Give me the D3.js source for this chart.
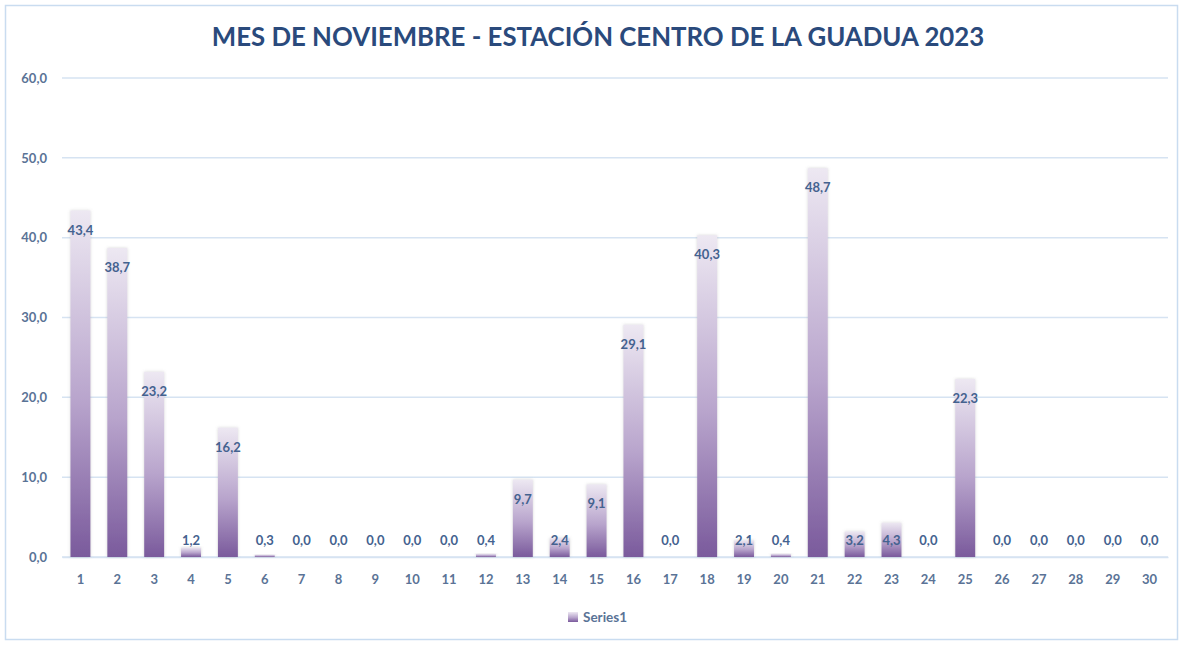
<!DOCTYPE html>
<html><head><meta charset="utf-8">
<script src="https://cdn.jsdelivr.net/npm/d3@7"></script>
<style>body{margin:0;background:#fff}svg{display:block}</style>
</head><body><svg id="c" width="1183" height="645"></svg>
<script>
const days = ["1","2","3","4","5","6","7","8","9","10","11","12","13","14","15","16","17","18","19","20","21","22","23","24","25","26","27","28","29","30"];
const values = [43.4,38.7,23.2,1.2,16.2,0.3,0.0,0.0,0.0,0.0,0.0,0.4,9.7,2.4,9.1,29.1,0.0,40.3,2.1,0.4,48.7,3.2,4.3,0.0,22.3,0.0,0.0,0.0,0.0,0.0];
const yTicks = [0,10,20,30,40,50,60];
const title = "MES DE NOVIEMBRE - ESTACIÓN CENTRO DE LA GUADUA 2023";
const seriesName = "Series1";

const loc = d3.formatLocale({decimal:",",thousands:".",grouping:[3],currency:["",""]});
const fmt = loc.format(".1f");
const svg = d3.select("#c");
const font = "Lato, 'Open Sans', sans-serif";

svg.append("rect").attr("x",5.5).attr("y",5.5).attr("width",1172).attr("height",634)
  .attr("fill","#fff").attr("stroke","#c9dcf0").attr("stroke-width",1.5);

const defs = svg.append("defs");
const g = defs.append("linearGradient").attr("id","bg").attr("x1",0).attr("y1",0).attr("x2",0).attr("y2",1);
g.append("stop").attr("offset","0%").attr("stop-color","#ede8f2");
g.append("stop").attr("offset","55%").attr("stop-color","#b8a4cc");
g.append("stop").attr("offset","100%").attr("stop-color","#7a5a9c");
const f = defs.append("filter").attr("id","sh").attr("x","-50%").attr("y","-10%").attr("width","200%").attr("height","120%");
f.append("feDropShadow").attr("dx",0).attr("dy",0).attr("stdDeviation",1.5).attr("flood-color","#888").attr("flood-opacity",0.35);

const x = d3.scaleBand().domain(days).range([62,1168]).paddingInner(0.46).paddingOuter(0.23);
const y = d3.scaleLinear().domain([0,60]).range([557,78]);

const grid = svg.append("g");
grid.selectAll("line").data(yTicks).join("line")
  .attr("x1",62).attr("x2",1168).attr("y1",d=>y(d)).attr("y2",d=>y(d))
  .attr("stroke","#d6e3f2").attr("stroke-width",1.5);

const yAxis = svg.append("g").attr("transform","translate(62,0)")
  .call(d3.axisLeft(y).tickValues(yTicks).tickFormat(fmt).tickSize(0).tickPadding(15));
yAxis.select(".domain").remove();
yAxis.selectAll("text").attr("font-family",font).attr("font-size",13).attr("font-weight","bold").attr("fill","#5a7396");

const xAxis = svg.append("g").attr("transform","translate(0,557)")
  .call(d3.axisBottom(x).tickSize(0).tickPadding(18));
xAxis.select(".domain").attr("stroke","#d6e3f2").attr("stroke-width",1.5);
xAxis.selectAll("text").attr("font-family",font).attr("font-size",13).attr("font-weight","bold").attr("fill","#5a7396");

svg.append("g").selectAll("rect").data(values).join("rect")
  .attr("x",(d,i)=>x(days[i])).attr("width",x.bandwidth())
  .attr("y",d=>y(d)).attr("height",d=>y(0)-y(d))
  .attr("fill","url(#bg)").attr("filter","url(#sh)");

svg.append("g").selectAll("text").data(values).join("text")
  .attr("x",(d,i)=>x(days[i])+x.bandwidth()/2)
  .attr("y",d=>Math.min(y(d)+24,545))
  .attr("text-anchor","middle").attr("font-family",font).attr("font-size",13).attr("font-weight","bold")
  .attr("fill","#44628f").text(d=>fmt(d));

svg.append("text").attr("x",598).attr("y",46).attr("text-anchor","middle")
  .attr("font-family",font).attr("font-size",25.8).attr("font-weight","bold").attr("fill","#2a4a7c")
  .text(title);

const leg = svg.append("g");
leg.append("rect").attr("x",568).attr("y",612).attr("width",10).attr("height",10).attr("fill","url(#bg)");
leg.append("text").attr("x",583).attr("y",622).attr("font-family",font).attr("font-size",13.5).attr("font-weight","bold")
  .attr("fill","#5a7396").text(seriesName);
</script></body></html>
